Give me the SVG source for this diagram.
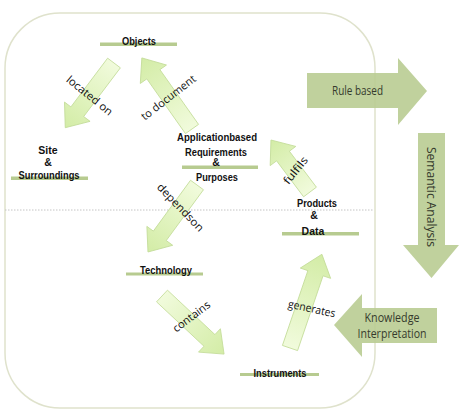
<svg xmlns="http://www.w3.org/2000/svg" width="474" height="412" viewBox="0 0 474 412">
<defs>
<linearGradient id="lg" x1="0" y1="0" x2="1" y2="0">
<stop offset="0" stop-color="#f1fbdc"/>
<stop offset="1" stop-color="#d3eca6"/>
</linearGradient>
<style>
.frame{fill:none;stroke:#dfe2cc;stroke-width:1.5}
.dots{stroke:#c4c4c4;stroke-width:1;stroke-dasharray:1.5 1.5}
.bar{fill:#b7cb90}
.big{fill:#b9cc92;fill-opacity:0.9}
.la{fill:url(#lg);stroke:#c3dc98;stroke-width:0.8}
.nt{font-family:"Liberation Sans",Arial,sans-serif;font-weight:bold;font-size:10.5px;fill:#111;text-anchor:middle}
.at{font-family:"Open Sans","Liberation Sans",sans-serif;font-size:11px;fill:#111;text-anchor:middle;dominant-baseline:central}
.bt{font-family:"Open Sans","Liberation Sans",sans-serif;font-size:12px;fill:#353a2c;text-anchor:middle}
</style>
</defs>
<rect width="474" height="412" fill="#ffffff"/>
<rect class="frame" x="5" y="13" width="370" height="395" rx="55" ry="55"/>
<line class="dots" x1="5" y1="210" x2="374" y2="210"/>

<g id="connectors">
<path class="la" d="M0,-8 H61 V-16 L81,0 L61,16 V8 H0 Z" transform="translate(114,63) rotate(127)"/>
<path class="la" d="M0,-8 H67 V-16 L87,0 L67,16 V8 H0 Z" transform="translate(192,129) rotate(-125.2)"/>
<path class="la" d="M0,-8 H63 V-16 L83,0 L63,16 V8 H0 Z" transform="translate(197,185) rotate(126.2)"/>
<path class="la" d="M0,-8 H65 V-16 L85,0 L65,16 V8 H0 Z" transform="translate(162,296) rotate(43.1)"/>
<path class="la" d="M0,-8 H79 V-16 L99,0 L79,16 V8 H0 Z" transform="translate(290,348) rotate(-71.2)"/>
<path class="la" d="M0,-8 H45 V-16 L65,0 L45,16 V8 H0 Z" transform="translate(310,192) rotate(-126.9)"/>
<text class="at" transform="translate(90,95) rotate(39)" textLength="56" lengthAdjust="spacingAndGlyphs">located on</text>
<text class="at" transform="translate(168,97) rotate(-38)" textLength="66" lengthAdjust="spacingAndGlyphs">to document</text>
<text class="at" transform="translate(181,207) rotate(46)" textLength="62" lengthAdjust="spacingAndGlyphs">dependson</text>
<text class="at" transform="translate(191,316) rotate(-37)" textLength="44" lengthAdjust="spacingAndGlyphs">contains</text>
<text class="at" transform="translate(312,308) rotate(12)" textLength="48" lengthAdjust="spacingAndGlyphs">generates</text>
<text class="at" transform="translate(295,170) rotate(-51)" textLength="32" lengthAdjust="spacingAndGlyphs">fulfils</text>
</g>

<g id="objects">
<rect class="bar" x="100" y="42.5" width="77" height="3.5"/>
<text class="nt" x="139" y="44.5" textLength="34" lengthAdjust="spacingAndGlyphs">Objects</text>
</g>

<g id="site">
<rect class="bar" x="11" y="176.5" width="77" height="3.5"/>
<text class="nt" x="48" y="154">Site</text>
<text class="nt" x="48" y="166">&amp;</text>
<text class="nt" x="49" y="178.5" textLength="61" lengthAdjust="spacingAndGlyphs">Surroundings</text>
</g>

<g id="requirements">
<rect class="bar" x="182" y="165.5" width="76" height="3.5"/>
<text class="nt" x="217" y="141" textLength="80" lengthAdjust="spacingAndGlyphs">Applicationbased</text>
<text class="nt" x="216" y="155.5" textLength="62" lengthAdjust="spacingAndGlyphs">Requirements</text>
<text class="nt" x="216" y="166">&amp;</text>
<text class="nt" x="217" y="180.5" textLength="42" lengthAdjust="spacingAndGlyphs">Purposes</text>
</g>

<g id="products">
<rect class="bar" x="282" y="232" width="77" height="3.5"/>
<text class="nt" x="317" y="207" textLength="40" lengthAdjust="spacingAndGlyphs">Products</text>
<text class="nt" x="314" y="218.5">&amp;</text>
<text class="nt" x="313" y="234.5">Data</text>
</g>

<g id="technology">
<rect class="bar" x="126" y="272.5" width="77" height="3"/>
<text class="nt" x="166" y="273.5" textLength="52" lengthAdjust="spacingAndGlyphs">Technology</text>
</g>

<g id="instruments">
<rect class="bar" x="240" y="373" width="79" height="3"/>
<text class="nt" x="280" y="376.5" textLength="53" lengthAdjust="spacingAndGlyphs">Instruments</text>
</g>

<g id="rule-based">
<polygon class="big" points="307,73 398,73 398,58 427,91 398,125 398,108 307,108"/>
<text class="bt" x="357.5" y="95" textLength="51" lengthAdjust="spacingAndGlyphs">Rule based</text>
</g>

<g id="semantic-analysis">
<polygon class="big" points="418,133 445,133 445,245 459,245 431.5,278 403,245 418,245"/>
<text class="bt" transform="translate(431,197) rotate(90)" dominant-baseline="central" textLength="100" lengthAdjust="spacingAndGlyphs">Semantic Analysis</text>
</g>

<g id="knowledge-interpretation">
<polygon class="big" points="437,308 437,343 362,343 362,357 334,325 362,294 362,308"/>
<text class="bt" x="392" y="321.5" textLength="55" lengthAdjust="spacingAndGlyphs">Knowledge</text>
<text class="bt" x="392" y="338" textLength="69" lengthAdjust="spacingAndGlyphs">Interpretation</text>
</g>
</svg>
